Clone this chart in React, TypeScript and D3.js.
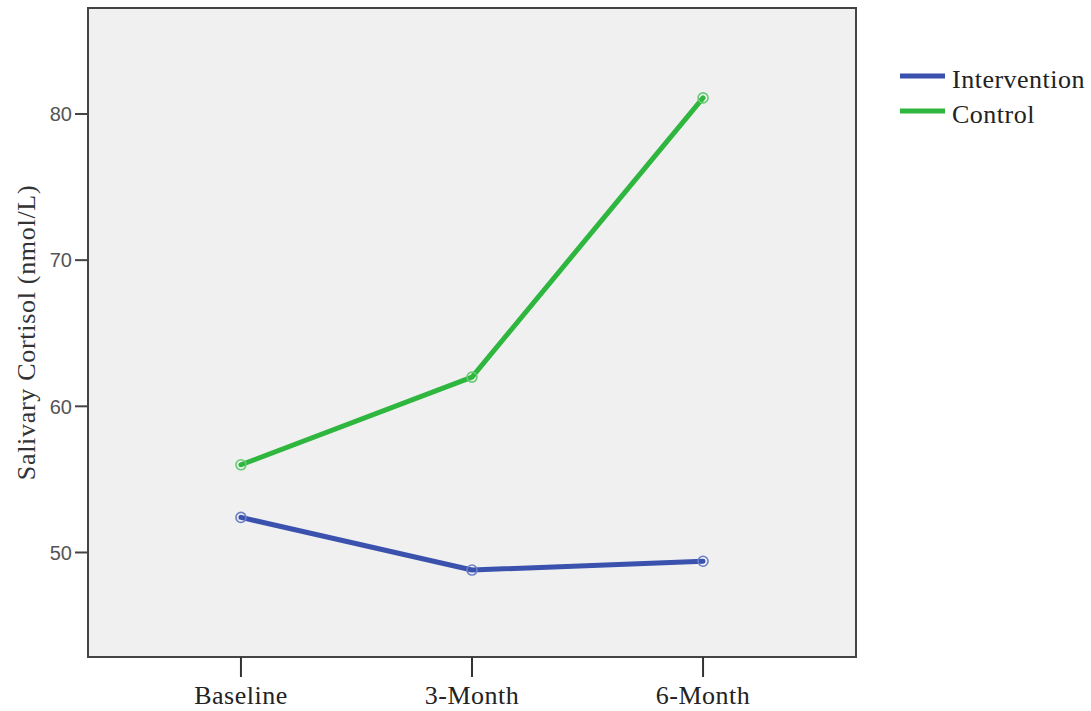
import React from "react";
import * as d3 from "d3";

const timepoints = ["Baseline", "3-Month", "6-Month"];
const interventionValues = [52.4, 48.8, 49.4];
const controlValues = [56.0, 62.0, 81.1];
const yTicks = [50, 60, 70, 80];
const seriesNames = ["Intervention", "Control"];

const App = () => {
  const width = 1091;
  const height = 711;
  const left = 88;
  const right = 856;
  const top = 8;
  const bottom = 657;

  const colors = ["#3a51ae", "#2fb63e"];
  const markerColors = ["#6c7ec8", "#66cc72"];
  const serif = "Liberation Serif, Times New Roman, serif";

  const x = d3.scalePoint(timepoints, [left, right]).padding(0.662);
  const y = d3.scaleLinear([42.85, 87.25], [bottom, top]);

  const line = d3
    .line<number>()
    .x((d, i) => x(timepoints[i]) as number)
    .y((d) => y(d));

  const series = [interventionValues, controlValues];

  return (
    <svg
      width={width}
      height={height}
      style={{ position: "absolute", left: 0, top: 0, background: "#fff" }}
    >
      <rect
        x={left}
        y={top}
        width={right - left}
        height={bottom - top}
        fill="#f0f0f0"
      />

      {series.map((vals, s) => (
        <g key={seriesNames[s]}>
          <path
            d={line(vals) || ""}
            fill="none"
            stroke={colors[s]}
            strokeWidth={5}
            strokeLinejoin="round"
            strokeLinecap="round"
          />
          {vals.map((v, i) => (
            <circle
              key={i}
              cx={x(timepoints[i])}
              cy={y(v)}
              r={5}
              fill="none"
              stroke={markerColors[s]}
              strokeWidth={1.6}
            />
          ))}
        </g>
      ))}

      <rect
        x={left}
        y={top}
        width={right - left}
        height={bottom - top}
        fill="none"
        stroke="#444"
        strokeWidth={2}
      />

      {/* y axis ticks */}
      {yTicks.map((t) => (
        <g key={t} transform={`translate(${left},${y(t)})`}>
          <line x1={-13} x2={0} stroke="#444" strokeWidth={2} />
          <text
            x={-16}
            dy="0.36em"
            textAnchor="end"
            fontFamily="Liberation Sans, Arial, sans-serif"
            fontSize={20}
            fill="#555"
          >
            {t}
          </text>
        </g>
      ))}

      {/* x axis ticks */}
      {timepoints.map((t) => (
        <g key={t} transform={`translate(${x(t)},${bottom})`}>
          <line y1={0} y2={20} stroke="#333" strokeWidth={2} />
          <text
            y={47}
            textAnchor="middle"
            fontFamily={serif}
            fontSize={26}
            letterSpacing={0.5}
            fill="#222"
          >
            {t}
          </text>
        </g>
      ))}

      <text
        transform={`translate(35,${(top + bottom) / 2}) rotate(-90)`}
        textAnchor="middle"
        fontFamily={serif}
        fontSize={26}
        letterSpacing={0.7}
        fill="#333"
      >
        Salivary Cortisol (nmol/L)
      </text>

      {/* legend */}
      {seriesNames.map((name, i) => (
        <g key={name} transform={`translate(900,${76 + i * 35})`}>
          <line x1={0} x2={45} stroke={colors[i]} strokeWidth={5} />
          <text
            x={52}
            dy="0.45em"
            fontFamily={serif}
            fontSize={26}
            letterSpacing={0.5}
            fill="#222"
          >
            {name}
          </text>
        </g>
      ))}
    </svg>
  );
};

export default App;
